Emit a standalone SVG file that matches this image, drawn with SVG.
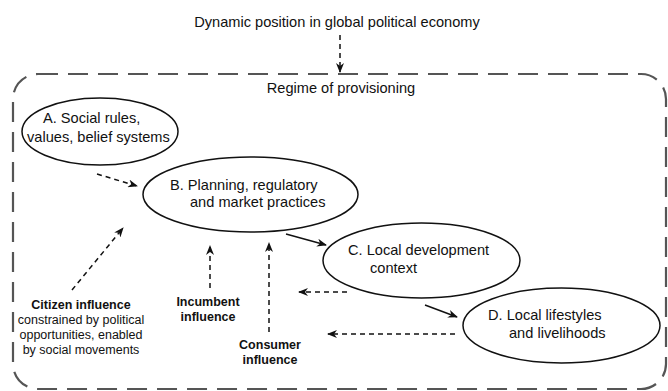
<svg xmlns="http://www.w3.org/2000/svg" width="668" height="391" viewBox="0 0 668 391">
  <defs>
    <style>
      .t { font-family: "Liberation Sans", Arial, sans-serif; font-size: 14.6px; fill: #111; }
      .lb { font-family: "Liberation Sans", Arial, sans-serif; font-size: 12.5px; fill: #111; text-anchor: middle; }
      .b { font-weight: bold; }
      .node { fill: #fff; stroke: #111; stroke-width: 1.5; }
      .frame { fill: none; stroke: #555; stroke-width: 2.2; stroke-dasharray: 20 10; }
      .dash { fill: none; stroke: #111; stroke-width: 1.5; stroke-dasharray: 5 4; }
      .solid { fill: none; stroke: #111; stroke-width: 1.5; }
    </style>
    <marker id="ah" viewBox="0 0 10 8" refX="9" refY="4" markerWidth="10" markerHeight="8" markerUnits="userSpaceOnUse" orient="auto">
      <path d="M0,0 L10,4 L0,8 L3,4 Z" fill="#111"/>
    </marker>
  </defs>

  <rect width="668" height="391" fill="#fff"/>

  <!-- outer regime boundary -->
  <g id="regime">
    <rect class="frame" x="13" y="74" width="653" height="315" rx="25" ry="25"/>
    <text class="t" x="341" y="93" text-anchor="middle">Regime of provisioning</text>
  </g>

  <g id="global">
    <text class="t" x="337" y="27" text-anchor="middle">Dynamic position in global political economy</text>
  </g>

  <g id="nodeA">
    <ellipse class="node" cx="100" cy="131.5" rx="78" ry="33.5"/>
    <text class="t" x="43" y="123">A. Social rules,</text>
    <text class="t" x="27" y="142">values, belief systems</text>
  </g>

  <g id="nodeB">
    <ellipse class="node" cx="250.5" cy="194.5" rx="107.5" ry="37.5"/>
    <text class="t" x="170" y="190">B. Planning, regulatory</text>
    <text class="t" x="190" y="207">and market practices</text>
  </g>

  <g id="nodeC">
    <ellipse class="node" cx="421.5" cy="260.5" rx="98.5" ry="37.5"/>
    <text class="t" x="348" y="255">C. Local development</text>
    <text class="t" x="370" y="273">context</text>
  </g>

  <g id="nodeD">
    <ellipse class="node" cx="561.5" cy="325.5" rx="98.5" ry="37.5"/>
    <text class="t" x="488" y="320">D. Local lifestyles</text>
    <text class="t" x="509" y="338">and livelihoods</text>
  </g>

  <g id="citizen">
    <text class="lb b" x="81" y="309">Citizen influence</text>
    <text class="lb" x="81" y="324">constrained by political</text>
    <text class="lb" x="81" y="339">opportunities, enabled</text>
    <text class="lb" x="81" y="354">by social movements</text>
  </g>

  <g id="incumbent">
    <text class="lb b" x="208" y="306">Incumbent</text>
    <text class="lb b" x="208" y="321">influence</text>
  </g>

  <g id="consumer">
    <text class="lb b" x="270" y="349">Consumer</text>
    <text class="lb b" x="270" y="364">influence</text>
  </g>

  <g id="connectors">
    <line class="dash" x1="340" y1="35" x2="340" y2="72" marker-end="url(#ah)"/>
    <line class="dash" x1="97" y1="174" x2="137" y2="186" marker-end="url(#ah)"/>
    <line class="dash" x1="72" y1="290" x2="123" y2="228" marker-end="url(#ah)"/>
    <line class="dash" x1="210" y1="288" x2="210" y2="246" marker-end="url(#ah)"/>
    <line class="dash" x1="269" y1="332" x2="269" y2="243" marker-end="url(#ah)"/>
    <line class="solid" x1="286" y1="234" x2="326" y2="245" marker-end="url(#ah)"/>
    <line class="dash" x1="347" y1="292" x2="299" y2="292" marker-end="url(#ah)"/>
    <line class="solid" x1="425" y1="305" x2="457" y2="317" marker-end="url(#ah)"/>
    <line class="dash" x1="455" y1="334" x2="328" y2="334" marker-end="url(#ah)"/>
  </g>
</svg>
